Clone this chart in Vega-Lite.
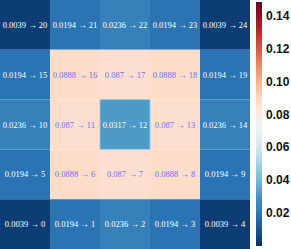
{
  "$schema": "https://vega.github.io/schema/vega-lite/v6.json",
  "width": 250,
  "height": 249,
  "padding": {"left": 0, "top": 0, "right": 41, "bottom": 0},
  "autosize": {"type": "none"},
  "config": {"view": {"stroke": null}},
  "data": {
    "values": [
      {"col": 0, "row": 4, "value": 0.0039, "idx": 20, "label": "0.0039 → 20"},
      {"col": 1, "row": 4, "value": 0.0194, "idx": 21, "label": "0.0194 → 21"},
      {"col": 2, "row": 4, "value": 0.0236, "idx": 22, "label": "0.0236 → 22"},
      {"col": 3, "row": 4, "value": 0.0194, "idx": 23, "label": "0.0194 → 23"},
      {"col": 4, "row": 4, "value": 0.0039, "idx": 24, "label": "0.0039 → 24"},
      {"col": 0, "row": 3, "value": 0.0194, "idx": 15, "label": "0.0194 → 15"},
      {"col": 1, "row": 3, "value": 0.0888, "idx": 16, "label": "0.0888 → 16"},
      {"col": 2, "row": 3, "value": 0.087, "idx": 17, "label": "0.087 → 17"},
      {"col": 3, "row": 3, "value": 0.0888, "idx": 18, "label": "0.0888 → 18"},
      {"col": 4, "row": 3, "value": 0.0194, "idx": 19, "label": "0.0194 → 19"},
      {"col": 0, "row": 2, "value": 0.0236, "idx": 10, "label": "0.0236 → 10"},
      {"col": 1, "row": 2, "value": 0.087, "idx": 11, "label": "0.087 → 11"},
      {"col": 2, "row": 2, "value": 0.0317, "idx": 12, "label": "0.0317 → 12"},
      {"col": 3, "row": 2, "value": 0.087, "idx": 13, "label": "0.087 → 13"},
      {"col": 4, "row": 2, "value": 0.0236, "idx": 14, "label": "0.0236 → 14"},
      {"col": 0, "row": 1, "value": 0.0194, "idx": 5, "label": "0.0194 → 5"},
      {"col": 1, "row": 1, "value": 0.0888, "idx": 6, "label": "0.0888 → 6"},
      {"col": 2, "row": 1, "value": 0.087, "idx": 7, "label": "0.087 → 7"},
      {"col": 3, "row": 1, "value": 0.0888, "idx": 8, "label": "0.0888 → 8"},
      {"col": 4, "row": 1, "value": 0.0194, "idx": 9, "label": "0.0194 → 9"},
      {"col": 0, "row": 0, "value": 0.0039, "idx": 0, "label": "0.0039 → 0"},
      {"col": 1, "row": 0, "value": 0.0194, "idx": 1, "label": "0.0194 → 1"},
      {"col": 2, "row": 0, "value": 0.0236, "idx": 2, "label": "0.0236 → 2"},
      {"col": 3, "row": 0, "value": 0.0194, "idx": 3, "label": "0.0194 → 3"},
      {"col": 4, "row": 0, "value": 0.0039, "idx": 4, "label": "0.0039 → 4"}
    ]
  },
  "encoding": {
    "x": {"field": "col", "type": "ordinal", "axis": null, "scale": {"paddingInner": 0, "paddingOuter": 0}},
    "y": {"field": "row", "type": "ordinal", "axis": null, "sort": "descending", "scale": {"paddingInner": 0, "paddingOuter": 0}}
  },
  "layer": [
    {
      "mark": {"type": "rect"},
      "encoding": {
        "color": {
          "field": "value",
          "type": "quantitative",
          "scale": {
            "domain": [0, 0.1485],
            "range": ["#053061", "#2166ac", "#4393c3", "#92c5de", "#d1e5f0", "#f7f7f7", "#fddbc7", "#f4a582", "#d6604d", "#b2182b", "#67001f"],
            "interpolate": "rgb",
            "clamp": true
          },
          "legend": {
            "orient": "none",
            "legendX": 256,
            "legendY": 2,
            "direction": "vertical",
            "title": null,
            "gradientLength": 244,
            "gradientThickness": 6,
            "gradientStrokeWidth": 0,
            "values": [0.02, 0.04, 0.06, 0.08, 0.1, 0.12, 0.14],
            "labelFont": "Liberation Sans",
            "labelFontSize": 12,
            "labelFontWeight": "bold",
            "labelColor": "#111",
            "labelOffset": 4
          }
        }
      }
    },
    {
      "transform": [{"filter": "datum.idx == 12"}],
      "mark": {"type": "rect", "fill": null, "stroke": "#9cc8e4", "strokeWidth": 1}
    },
    {
      "mark": {"type": "text", "font": "Liberation Serif", "fontSize": 8.5},
      "encoding": {
        "text": {"field": "label"},
        "color": {
          "condition": {"test": "datum.value > 0.05", "value": "#6f6ff5"},
          "value": "#ffffff"
        }
      }
    }
  ]
}
